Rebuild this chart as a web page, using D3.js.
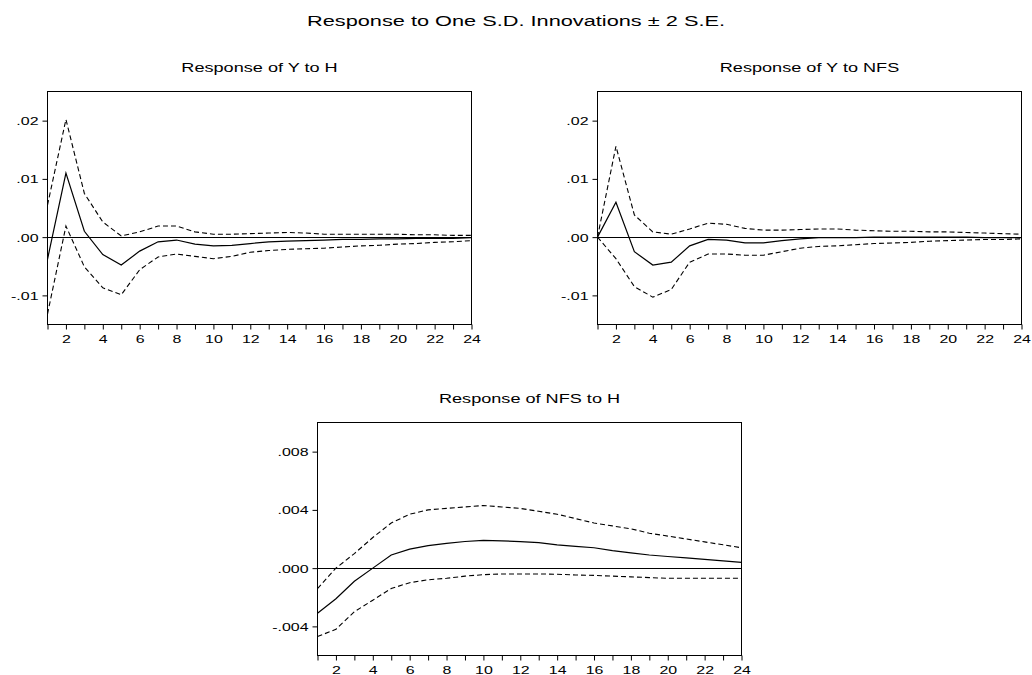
<!DOCTYPE html>
<html>
<head>
<meta charset="utf-8">
<script src="https://cdn.jsdelivr.net/npm/d3@7"></script>
<style>
  body { margin: 0; background: #fff; }
  svg { display: block; }
  text { font-family: Arial, "Liberation Sans", sans-serif; fill: #000; }
</style>
</head>
<body>
<svg id="chart" width="1032" height="675"></svg>
<script>
// Impulse-response horizon (periods)
const periods = d3.range(1, 25);

// Response of Y to H: point estimate and ±2 S.E. bands
const yToH_resp  = [-0.0038, 0.0110, 0.0010, -0.0030, -0.0048, -0.0024, -0.0008, -0.0005, -0.0012, -0.0015, -0.0014, -0.0011,
                    -0.0008, -0.0007, -0.0006, -0.0005, -0.0004, -0.0004, -0.0003, -0.0003, -0.0002, -0.0002, -0.0002, -0.0001];
const yToH_upper = [0.0055, 0.0202, 0.0075, 0.0026, 0.0002, 0.0009, 0.0019, 0.0019, 0.0009, 0.0005, 0.0005, 0.0006,
                    0.0007, 0.0008, 0.0007, 0.0005, 0.0005, 0.0005, 0.0005, 0.0005, 0.0004, 0.0004, 0.0003, 0.0003];
const yToH_lower = [-0.0132, 0.0019, -0.0051, -0.0087, -0.0099, -0.0056, -0.0034, -0.0029, -0.0033, -0.0037, -0.0033, -0.0026,
                    -0.0023, -0.0021, -0.0020, -0.0019, -0.0017, -0.0015, -0.0014, -0.0012, -0.0011, -0.0009, -0.0008, -0.0006];

// Response of Y to NFS
const yToNFS_resp  = [0.0000, 0.0060, -0.0025, -0.0048, -0.0043, -0.0015, -0.0004, -0.0005, -0.0010, -0.0010, -0.0006, -0.0003,
                      -0.0001, -0.0001, -0.0001, 0.0000, 0.0000, 0.0000, 0.0000, 0.0000, 0.0000, -0.0001, -0.0001, -0.0001];
const yToNFS_upper = [0.0000, 0.0156, 0.0038, 0.0009, 0.0005, 0.0014, 0.0024, 0.0022, 0.0015, 0.0012, 0.0012, 0.0013,
                      0.0014, 0.0014, 0.0012, 0.0011, 0.0010, 0.0010, 0.0009, 0.0009, 0.0008, 0.0007, 0.0006, 0.0005];
const yToNFS_lower = [0.0000, -0.0037, -0.0085, -0.0103, -0.0090, -0.0043, -0.0029, -0.0029, -0.0031, -0.0031, -0.0025, -0.0019,
                      -0.0016, -0.0015, -0.0013, -0.0011, -0.0010, -0.0009, -0.0007, -0.0006, -0.0005, -0.0004, -0.0004, -0.0003];

// Response of NFS to H
const nfsToH_resp  = [-0.0031, -0.0021, -0.0009, 0.0000, 0.0009, 0.0013, 0.00155, 0.0017, 0.00183, 0.0019, 0.00187, 0.00182,
                      0.00175, 0.0016, 0.0015, 0.0014, 0.0012, 0.00105, 0.0009, 0.0008, 0.0007, 0.0006, 0.0005, 0.0004];
const nfsToH_upper = [-0.0014, 0.0000, 0.0010, 0.0021, 0.0031, 0.0037, 0.0040, 0.0041, 0.0042, 0.0043, 0.0042, 0.0041,
                      0.0039, 0.0037, 0.0034, 0.0031, 0.0029, 0.0027, 0.0024, 0.0022, 0.0020, 0.0018, 0.0016, 0.0014];
const nfsToH_lower = [-0.0047, -0.0042, -0.0030, -0.0022, -0.0014, -0.0010, -0.0008, -0.0007, -0.00055, -0.00045, -0.0004, -0.0004,
                      -0.0004, -0.00042, -0.00047, -0.0005, -0.00055, -0.0006, -0.00065, -0.0007, -0.0007, -0.0007, -0.0007, -0.0007];

// Axis tick values
const yTicksY   = [-0.01, 0.00, 0.01, 0.02];
const yTicksNFS = [-0.004, 0.000, 0.004, 0.008];
const xLabelTicks = [2, 4, 6, 8, 10, 12, 14, 16, 18, 20, 22, 24];

const mainTitle = "Response to One S.D. Innovations \u00B1 2 S.E.";

const panels = [
  { title: "Response of Y to H",   resp: yToH_resp,   upper: yToH_upper,   lower: yToH_lower,
    left: 47.5, right: 471.5, top: 91.5, bottom: 324.5, domain: [-0.015, 0.025], ticks: yTicksY, digits: 2 },
  { title: "Response of Y to NFS", resp: yToNFS_resp, upper: yToNFS_upper, lower: yToNFS_lower,
    left: 597.5, right: 1021.5, top: 91.5, bottom: 324.5, domain: [-0.015, 0.025], ticks: yTicksY, digits: 2 },
  { title: "Response of NFS to H", resp: nfsToH_resp, upper: nfsToH_upper, lower: nfsToH_lower,
    left: 317.5, right: 741.5, top: 422.5, bottom: 655.5, domain: [-0.006, 0.010], ticks: yTicksNFS, digits: 3 }
];

// Text in this graphic is horizontally widened
const SX = 1.45;
const svg = d3.select("#chart");

function wideText(parent, x, y, str, size, anchor) {
  return parent.append("text")
    .attr("transform", `translate(${x},${y}) scale(${SX},1)`)
    .attr("text-anchor", anchor)
    .style("font-size", size + "px")
    .text(str);
}

wideText(svg, 516, 26, mainTitle, 15, "middle");

// EViews-style labels: ASCII minus, no leading zero (".02", "-.004")
const locale = d3.formatLocale({ decimal: ".", thousands: ",", grouping: [3], currency: ["", ""], minus: "-" });
function evFormat(digits) {
  const f = locale.format("." + digits + "f");
  return v => f(Math.abs(v) < 1e-12 ? 0 : v).replace(/^(-?)0\./, "$1.");
}

panels.forEach(p => {
  const x = d3.scaleLinear().domain([1, 24]).range([p.left, p.right]);
  const y = d3.scaleLinear().domain(p.domain).range([p.bottom, p.top]);
  const g = svg.append("g");

  wideText(g, (p.left + p.right) / 2, p.top - 20, p.title, 12.5, "middle");

  // y axis: ticks pointing outward
  const yAxis = g.append("g")
    .attr("transform", `translate(${p.left},0)`)
    .call(d3.axisLeft(y).tickValues(p.ticks).tickSize(5).tickFormat(evFormat(p.digits)));
  yAxis.select(".domain").remove();
  yAxis.selectAll("line").attr("stroke", "#000");
  yAxis.selectAll("text")
    .attr("x", null)
    .attr("dy", "0.36em")
    .attr("transform", `translate(-9,0) scale(${SX},1)`)
    .style("font-size", "11px")
    .style("font-family", "Arial, 'Liberation Sans', sans-serif")
    .attr("fill", "#000");

  // x axis: a tick every period, labels on even periods
  const xAxis = g.append("g")
    .attr("transform", `translate(0,${p.bottom})`)
    .call(d3.axisBottom(x).tickValues(periods).tickSize(5)
      .tickFormat(d => xLabelTicks.includes(d) ? String(d) : ""));
  xAxis.select(".domain").remove();
  xAxis.selectAll("line").attr("stroke", "#000");
  xAxis.selectAll("text")
    .attr("y", null)
    .attr("dy", "0.71em")
    .attr("transform", `translate(0,10.5) scale(${SX},1)`)
    .style("font-size", "11px")
    .style("font-family", "Arial, 'Liberation Sans', sans-serif")
    .attr("fill", "#000");

  // frame
  g.append("rect")
    .attr("x", p.left).attr("y", p.top)
    .attr("width", p.right - p.left).attr("height", p.bottom - p.top)
    .attr("fill", "none").attr("stroke", "#000").attr("stroke-width", 1);

  // zero reference line
  g.append("line")
    .attr("x1", p.left).attr("x2", p.right)
    .attr("y1", Math.round(y(0)) + 0.5).attr("y2", Math.round(y(0)) + 0.5)
    .attr("stroke", "#000").attr("stroke-width", 1);

  const line = d3.line().x((d, i) => x(periods[i])).y(d => y(d));

  g.append("path").datum(p.upper).attr("d", line)
    .attr("fill", "none").attr("stroke", "#000").attr("stroke-width", 1.1)
    .attr("stroke-dasharray", "5,3");
  g.append("path").datum(p.lower).attr("d", line)
    .attr("fill", "none").attr("stroke", "#000").attr("stroke-width", 1.1)
    .attr("stroke-dasharray", "5,3");
  g.append("path").datum(p.resp).attr("d", line)
    .attr("fill", "none").attr("stroke", "#000").attr("stroke-width", 1.2);
});
</script>
</body>
</html>
